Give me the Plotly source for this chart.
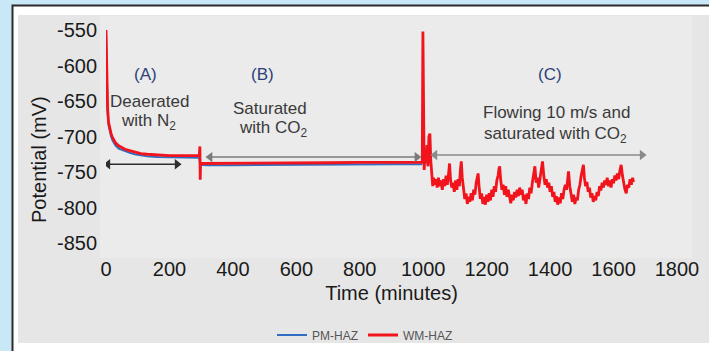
import plotly.graph_objects as go

# ---------------- data ----------------
# WM-HAZ (red) - phase A: deaerated with N2
t_wm_a = [0, 1, 3, 5, 8, 12, 16, 20, 25, 30, 40, 50, 60, 75, 90, 110, 130, 160, 200, 240, 280, 294]
wm_a = [-550, -590, -635, -660, -680, -690, -696, -701, -705, -709, -713, -716, -718, -720,
        -722, -724, -725, -726, -727, -727, -727, -727]
# phase B: saturated with CO2 (incl. switching spike)
t_wm_b = [296, 297, 298, 300, 320, 400, 500, 600, 700, 800, 900, 997]
wm_b = [-714, -761, -738, -738, -738, -738, -737.5, -737, -737, -736.5, -736, -736]
# phase C: flowing 10 m/s, saturated with CO2
t_wm_c = [999, 1001, 1003, 1006, 1009, 1012, 1015, 1018, 1021, 1024, 1027, 1030, 1033, 1036,
          1040, 1044, 1048, 1052, 1056, 1060, 1064, 1068, 1072, 1076, 1080, 1083, 1086, 1090,
          1094, 1098, 1102, 1106, 1110, 1114, 1117, 1120, 1123, 1127, 1131, 1135, 1139, 1143,
          1147, 1151, 1155, 1159, 1163, 1167, 1170, 1173, 1176, 1180, 1184, 1188, 1192, 1196,
          1200, 1204, 1208, 1212, 1216, 1220, 1224, 1228, 1232, 1236, 1239, 1241, 1244, 1248,
          1252, 1256, 1260, 1264, 1268, 1272, 1276, 1280, 1284, 1288, 1292, 1296, 1300, 1304,
          1308, 1312, 1316, 1320, 1324, 1328, 1332, 1336, 1340, 1344, 1348, 1352, 1356, 1360,
          1364, 1368, 1372, 1376, 1380, 1384, 1388, 1392, 1396, 1400, 1404, 1408, 1412, 1416,
          1420, 1424, 1428, 1432, 1436, 1440, 1444, 1448, 1452, 1455, 1458, 1462, 1466, 1470,
          1474, 1478, 1482, 1486, 1490, 1494, 1498, 1502, 1505, 1508, 1512, 1516, 1520, 1524,
          1528, 1532, 1536, 1540, 1544, 1548, 1552, 1556, 1560, 1564, 1568, 1572, 1576, 1580,
          1584, 1588, 1592, 1596, 1600, 1604, 1608, 1612, 1616, 1620, 1624, 1628, 1632, 1636,
          1640, 1644, 1648, 1652, 1656, 1660, 1663]
wm_c = [-552, -700, -747, -718, -738, -712, -742, -700, -696, -735, -762, -770, -758, -768,
        -760, -772, -758, -770, -762, -775, -760, -770, -755, -768, -752, -738, -760, -772,
        -765, -778, -762, -775, -760, -770, -748, -735, -758, -775, -788, -780, -795, -785,
        -792, -780, -790, -775, -782, -765, -758, -752, -770, -788, -780, -795, -785, -796,
        -782, -792, -780, -790, -775, -785, -770, -778, -762, -755, -745, -742, -760, -775,
        -768, -782, -770, -785, -775, -788, -794, -782, -790, -778, -786, -775, -784, -772,
        -782, -775, -790, -782, -795, -780, -788, -772, -780, -765, -755, -742, -765, -758,
        -772, -760, -752, -735, -755, -768, -760, -772, -765, -778, -770, -785, -778, -792,
        -784, -796, -786, -794, -780, -788, -775, -768, -775, -760, -749, -770, -785, -792,
        -782, -795, -786, -790, -775, -768, -755, -745, -740, -758, -770, -764, -778, -772,
        -786, -780, -792, -784, -790, -778, -784, -770, -776, -765, -772, -762, -768, -758,
        -770, -762, -772, -760, -766, -755, -762, -752, -760, -748, -740, -755, -768, -775,
        -780, -768, -772, -760, -768, -758, -764]

# PM-HAZ (blue)
t_pm = [0, 1, 3, 5, 8, 12, 16, 20, 25, 30, 40, 50, 60, 75, 90, 110, 130, 160, 200, 240, 280,
        294, 297, 320, 400, 500, 600, 700, 800, 900, 997]
pm = [-552, -595, -640, -665, -684, -694, -700, -705, -709, -713, -717, -719, -721, -723, -725,
      -727, -728, -729, -729.5, -730, -730, -730, -740, -740.5, -740.5, -740, -739.5, -739.5,
      -739, -739, -739]

x_tick_vals = [0, 200, 400, 600, 800, 1000, 1200, 1400, 1600, 1800]
y_tick_vals = [-850, -800, -750, -700, -650, -600, -550]
y_tick_labels = ["-850", "-800", "-750", "-700", "-650", "-600", "-550"]

series_names = ["PM-HAZ", "WM-HAZ"]

# phase arrows (start time, end time, level)
arrow_a = [6, 224, -739]
arrow_b = [328, 980, -729]
arrow_c = [1037, 1690, -726]

# ---------------- figure ----------------
FONT = "Liberation Sans, Arial, sans-serif"
W, H = 709, 351
ML, MR, MT, MB = 106, 32, 30, 108
PW, PH = W - ML - MR, H - MT - MB


def px(xp):
    return (xp - ML) / PW


def py(yp):
    return (H - MB - yp) / PH


fig = go.Figure()
fig.add_trace(go.Scatter(x=t_pm, y=pm, mode="lines", name=series_names[0],
                         line=dict(color="#2f6cc2", width=2)))
fig.add_trace(go.Scatter(x=t_wm_a + t_wm_b + t_wm_c, y=wm_a + wm_b + wm_c, mode="lines",
                         name=series_names[1], line=dict(color="#f2141c", width=2.8)))

for arr, col in [(arrow_a, "#2e2e2e"), (arrow_b, "#7a7a7a"), (arrow_c, "#8a8a8a")]:
    fig.add_trace(go.Scatter(x=[arr[0], arr[1]], y=[arr[2], arr[2]], mode="lines+markers",
                             line=dict(color=col, width=1.5),
                             marker=dict(symbol=["triangle-left", "triangle-right"], size=9, color=col),
                             showlegend=False, hoverinfo="skip"))

shapes = [
    dict(type="rect", xref="paper", yref="paper", x0=px(12.5), x1=px(760), y0=py(420), y1=py(5.5),
         fillcolor="#ffffff", line=dict(color="#2b2b2b", width=2), layer="below"),
    dict(type="rect", xref="paper", yref="paper", x0=px(18), x1=px(760), y0=py(343), y1=py(15),
         fillcolor="#e6e6e6", line=dict(width=0), layer="below"),
    dict(type="rect", xref="paper", yref="paper", x0=px(100), x1=px(692), y0=py(258), y1=py(16),
         fillcolor="#ebebeb", line=dict(width=0), layer="below"),
]

ann_color = "#3a3a3a"
lab_color = "#2d3f78"
annotations = [
    dict(text="Potential (mV)", xref="paper", yref="paper", x=px(39), y=py(160), textangle=-90,
         xanchor="center", yanchor="middle",
         showarrow=False, font=dict(size=20, color="#1a1a1a", family=FONT)),
    dict(text="(A)", x=123, y=-612, showarrow=False, font=dict(size=17, color=lab_color, family=FONT)),
    dict(text="Deaerated", x=136, y=-650, showarrow=False, font=dict(size=17, color=ann_color, family=FONT)),
    dict(text="with N<sub>2</sub>", x=134, y=-680, showarrow=False, font=dict(size=17, color=ann_color, family=FONT)),
    dict(text="(B)", x=493, y=-613, showarrow=False, font=dict(size=17, color=lab_color, family=FONT)),
    dict(text="Saturated", x=517, y=-660, showarrow=False, font=dict(size=17, color=ann_color, family=FONT)),
    dict(text="with CO<sub>2</sub>", x=525, y=-690, showarrow=False, font=dict(size=17, color=ann_color, family=FONT)),
    dict(text="(C)", x=1400, y=-613, showarrow=False, font=dict(size=17, color=lab_color, family=FONT)),
    dict(text="Flowing 10 m/s and", x=1419, y=-666, showarrow=False, font=dict(size=17, color=ann_color, family=FONT)),
    dict(text="saturated with CO<sub>2</sub>", x=1416, y=-698, showarrow=False, font=dict(size=17, color=ann_color, family=FONT)),
]

fig.update_layout(
    width=W, height=H, autosize=False,
    margin=dict(l=ML, r=MR, t=MT, b=MB, pad=0, autoexpand=False),
    paper_bgcolor="#c8e7f7", plot_bgcolor="rgba(0,0,0,0)",
    font=dict(family=FONT, color="#1a1a1a"),
    shapes=shapes, annotations=annotations,
    showlegend=True,
    legend=dict(orientation="h", xref="container", yref="container", x=365 / W, xanchor="center",
                y=1 - 335 / H, yanchor="middle",
                bgcolor="rgba(0,0,0,0)", font=dict(size=12, color="#555555", family=FONT),
                itemwidth=30, tracegroupgap=0),
    xaxis=dict(range=[0, 1800], tickvals=x_tick_vals, showgrid=False, zeroline=False, showline=False,
               ticks="outside", ticklen=8, tickcolor="rgba(0,0,0,0)", automargin=False,
               tickfont=dict(size=20, color="#1a1a1a", family=FONT),
               title=dict(text="Time (minutes)", font=dict(size=20, color="#1a1a1a", family=FONT), standoff=6)),
    yaxis=dict(range=[-850, -550], tickvals=y_tick_vals, ticktext=y_tick_labels, showgrid=False,
               zeroline=False, showline=False, ticks="outside", ticklen=4, tickcolor="rgba(0,0,0,0)",
               automargin=False, tickfont=dict(size=20, color="#1a1a1a", family=FONT)),
)

fig.write_html("out.html")
